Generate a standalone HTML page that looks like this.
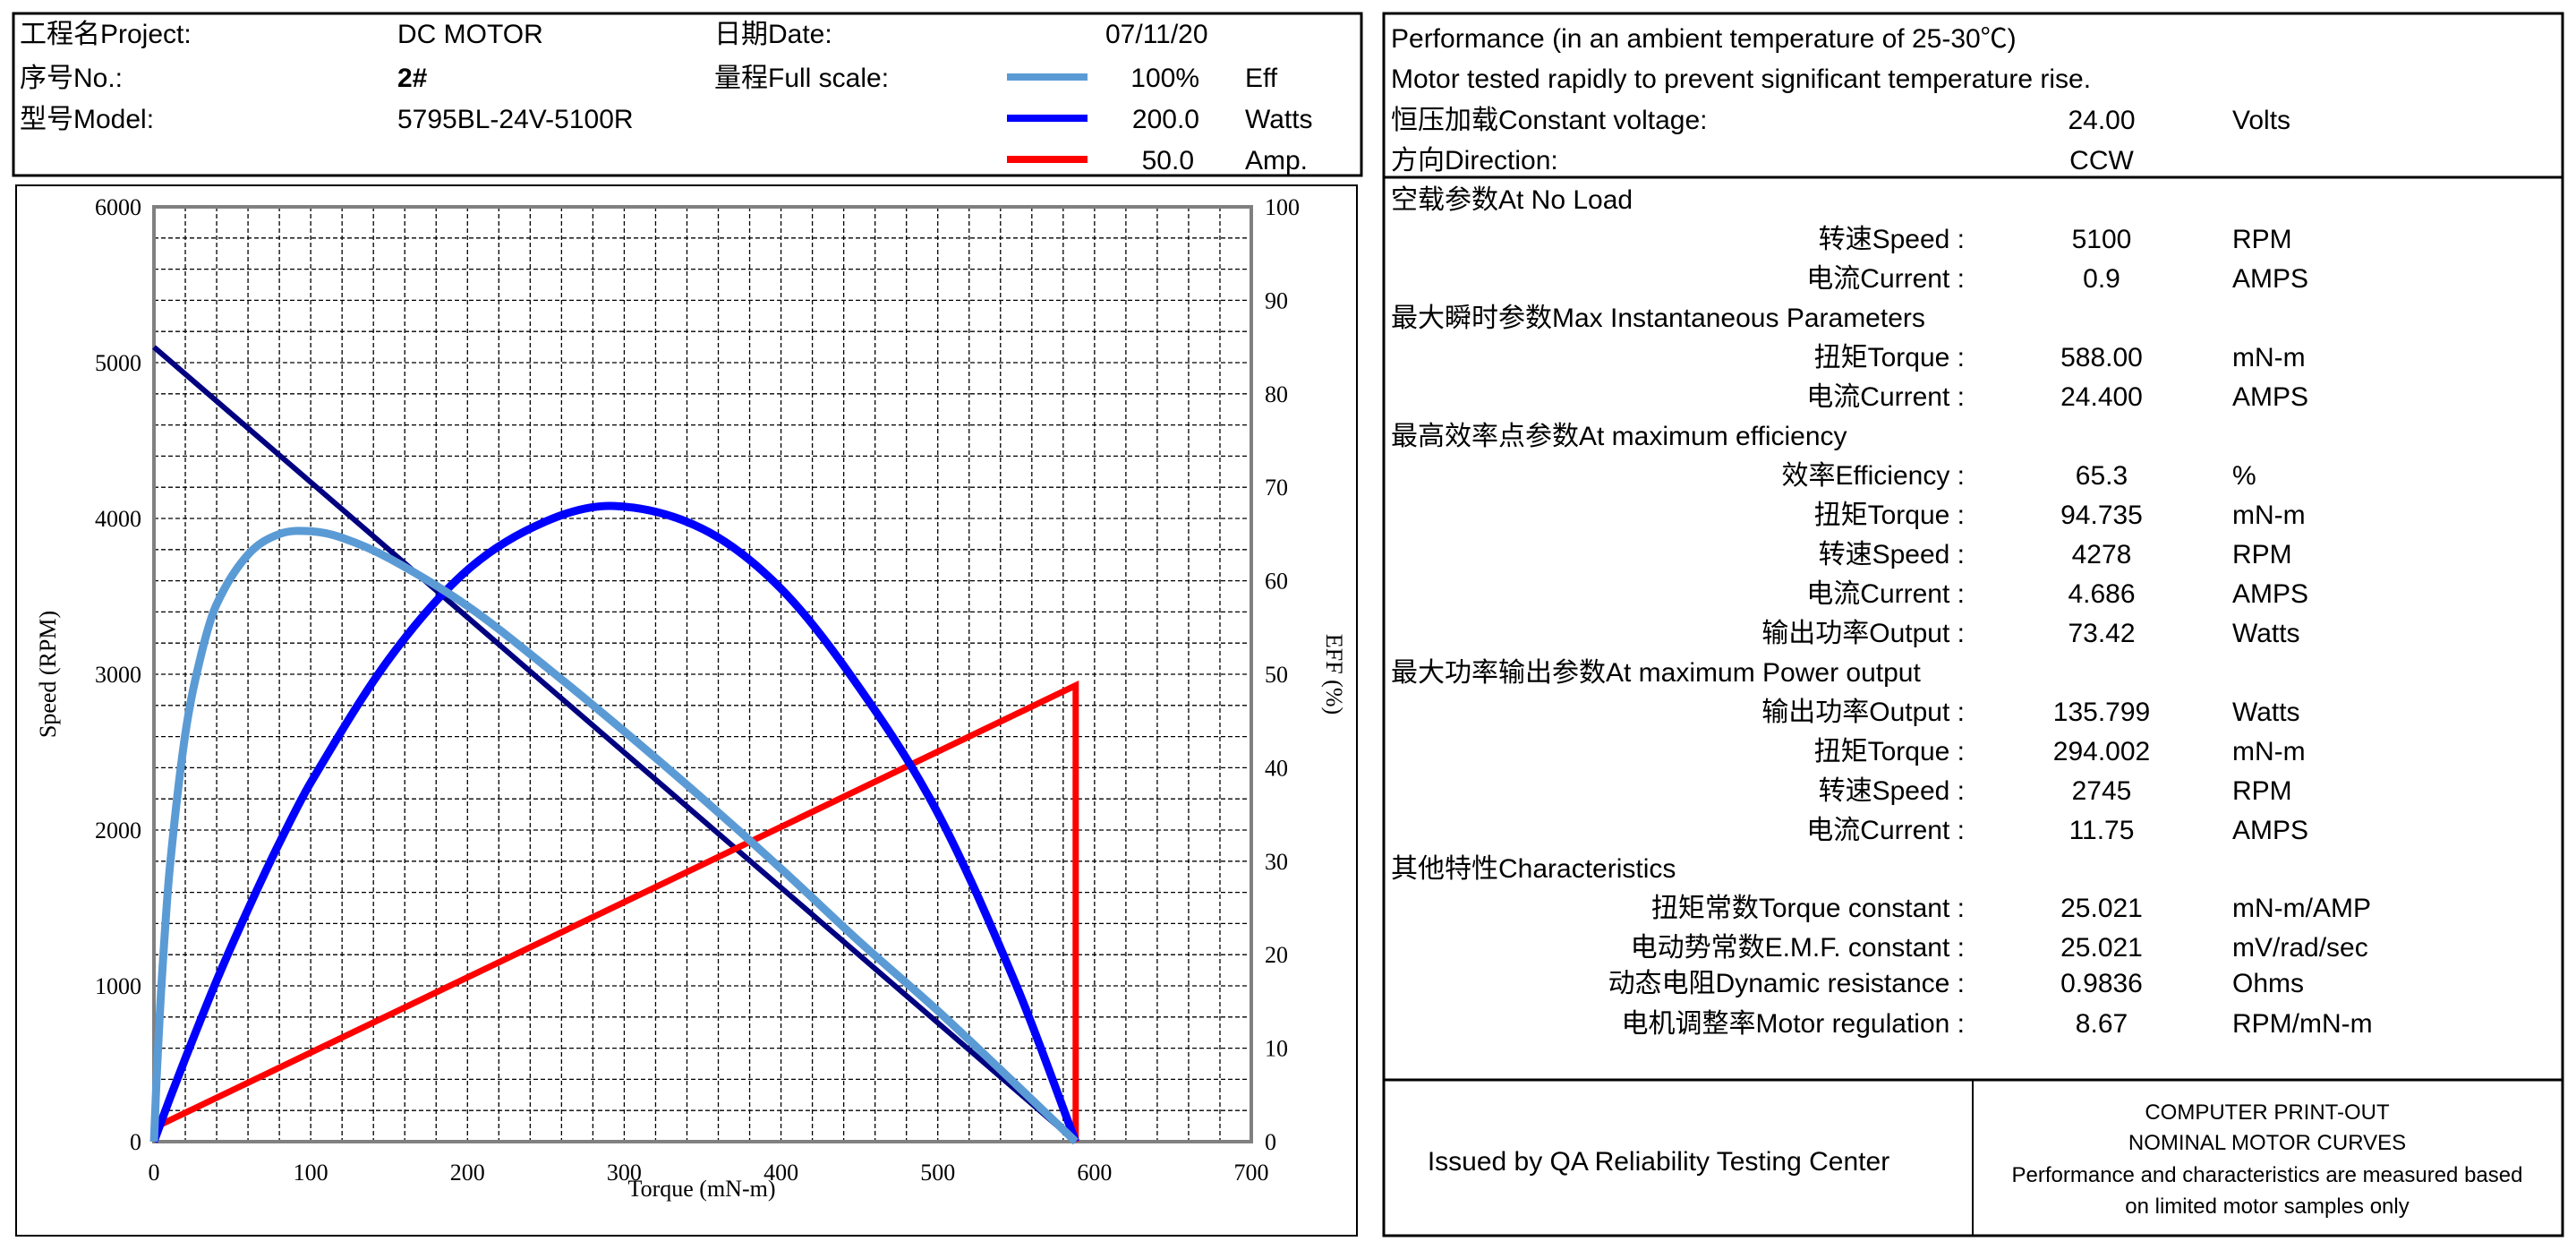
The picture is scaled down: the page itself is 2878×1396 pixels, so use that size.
<!DOCTYPE html>
<html><head><meta charset="utf-8"><style>
html,body{margin:0;padding:0;background:#fff;}
svg{display:block;}
.t{font-family:"Liberation Sans","Noto Sans CJK SC",sans-serif;font-size:30px;fill:#000;}
.s{font-family:"Liberation Serif",serif;font-size:26px;fill:#000;}
</style></head><body>
<svg id="root" width="2878" height="1396" viewBox="0 0 2878 1396" xmlns="http://www.w3.org/2000/svg">
<g>
<rect x="15" y="15" width="1506" height="181" fill="none" stroke="#000" stroke-width="3"/>
<text class="t" x="22" y="48">工程名Project:</text>
<text class="t" x="444" y="48">DC MOTOR</text>
<text class="t" x="798" y="48">日期Date:</text>
<text class="t" x="1235" y="48">07/11/20</text>
<text class="t" x="22" y="97">序号No.:</text>
<text class="t" x="444" y="97" font-weight="bold">2#</text>
<text class="t" x="798" y="97">量程Full scale:</text>
<text class="t" x="22" y="143">型号Model:</text>
<text class="t" x="444" y="143">5795BL-24V-5100R</text>
<rect x="1125" y="82" width="90" height="8" fill="#5B9BD5"/>
<text class="t" x="1340" y="97" text-anchor="end">100%</text>
<text class="t" x="1391" y="97">Eff</text>
<rect x="1125" y="128" width="90" height="8" fill="#0000FF"/>
<text class="t" x="1340" y="143" text-anchor="end">200.0</text>
<text class="t" x="1391" y="143">Watts</text>
<rect x="1125" y="174" width="90" height="8" fill="#FF0000"/>
<text class="t" x="1334" y="189" text-anchor="end">50.0</text>
<text class="t" x="1391" y="189">Amp.</text>
</g>
<rect x="18" y="207" width="1498" height="1173" fill="none" stroke="#000" stroke-width="2"/>
<g id="chart"></g>
<g>
<rect x="1546" y="15" width="1317" height="1365" fill="none" stroke="#000" stroke-width="3"/>
<line x1="1546" y1="198" x2="2863" y2="198" stroke="#000" stroke-width="3"/>
<line x1="1546" y1="1206" x2="2863" y2="1206" stroke="#000" stroke-width="3"/>
<line x1="2204" y1="1206" x2="2204" y2="1380" stroke="#000" stroke-width="2"/>
<g id="perf"></g>
<text class="t" x="1853" y="1307" text-anchor="middle" font-size="31">Issued by QA Reliability Testing Center</text>
<g font-size="24" text-anchor="middle">
<text class="t" x="2533" y="1250" style="font-size:24px">COMPUTER PRINT-OUT</text>
<text class="t" x="2533" y="1284" style="font-size:24px">NOMINAL MOTOR CURVES</text>
<text class="t" x="2533" y="1320" style="font-size:24px">Performance and characteristics are measured based</text>
<text class="t" x="2533" y="1355" style="font-size:24px">on limited motor samples only</text>
</g>
</g>
</svg>
<script>
// ---- chart data ----
const speedTorque = [0, 588];
const speedRpm = [5100, 0];
const effTorque = [0, 1, 2, 5, 10, 20, 30, 40, 60, 80, 100, 120, 150, 200, 250, 300, 350, 400, 450, 500, 550, 588];
const effPct = [0, 4.1, 7.9, 17.4, 29.1, 43.6, 52, 57.5, 62.8, 65.0, 65.3, 64.6, 62.4, 57.3, 50.8, 43.9, 36.7, 29.2, 21.4, 14.0, 6.1, 0];
const powerTorque = [0, 5, 10, 20, 40, 60, 80, 100, 150, 200, 250, 294, 350, 400, 450, 500, 550, 588];
const powerWatts = [0, 4.6, 9.1, 17.8, 34.5, 49.7, 63.9, 76.8, 103.3, 122.3, 132.7, 136.0, 131.1, 118.3, 97.1, 70.3, 33.5, 0];
const currentTorque = [0, 4, 588, 588];
const currentAmps = [0, 0.9, 24.4, 0];
const xTicks = [0, 100, 200, 300, 400, 500, 600, 700];
const yTicks = [0, 1000, 2000, 3000, 4000, 5000, 6000];
const y2Ticks = [0, 10, 20, 30, 40, 50, 60, 70, 80, 90, 100];
const NS = 'http://www.w3.org/2000/svg';
const L = 172, R = 1398, T = 231, B = 1275;
const xs = v => L + v / 700 * (R - L);
const ys = v => B - v / 6000 * (B - T);
const ysPct = v => B - v / 100 * (B - T);
const g = document.getElementById('chart');
function mk(tag, attrs, parent) {
  const e = document.createElementNS(NS, tag);
  for (const k in attrs) e.setAttribute(k, attrs[k]);
  (parent || g).appendChild(e);
  return e;
}
for (let v = 20; v < 700; v += 20) {
  const ln = mk('line', {x1: xs(v), x2: xs(v), y1: T, y2: B, stroke: '#000', 'stroke-width': 1.3, 'stroke-dasharray': '5,3'});
  
  
}
for (let v = 200; v < 6000; v += 200) {
  const ln = mk('line', {x1: L, x2: R, y1: ys(v), y2: ys(v), stroke: '#000', 'stroke-width': 1.3, 'stroke-dasharray': '5,3'});
  
  
}
const frame = mk('rect', {x: L, y: T, width: R - L, height: B - T, fill: 'none', stroke: '#808080', 'stroke-width': 4});


xTicks.forEach(v => {
  const t = mk('text', {x: xs(v), y: 1318, 'text-anchor': 'middle', class: 's'});
  t.textContent = v;
  
  
});
yTicks.forEach(v => {
  const t = mk('text', {x: 158, y: ys(v) + 9, 'text-anchor': 'end', class: 's'});
  t.textContent = v;
  
  
});
y2Ticks.forEach(v => {
  const t = mk('text', {x: 1413, y: ysPct(v) + 9, class: 's'});
  t.textContent = v;
  
  
});
const xt = mk('text', {x: 784, y: 1336, 'text-anchor': 'middle', class: 's'});
xt.textContent = 'Torque (mN-m)';


const yt = mk('text', {x: 0, y: 0, 'text-anchor': 'middle', class: 's', transform: 'translate(62,753) rotate(-90)'});
yt.textContent = 'Speed (RPM)';


const y2t = mk('text', {x: 0, y: 0, 'text-anchor': 'middle', class: 's', transform: 'translate(1482,753) rotate(90)'});
y2t.textContent = 'EFF (%)';


function series(xsArr, ysArr, yfn) {
  return xsArr.map((x, i) => (i ? 'L' : 'M') + xs(x).toFixed(1) + ',' + yfn(ysArr[i]).toFixed(1)).join(' ');
}
// cubic Hermite with central-difference tangents
function smooth(xsArr, ysArr, yfn) {
  const X = xsArr.map(xs), Y = ysArr.map(yfn), n = X.length;
  const m = [];
  for (let i = 0; i < n; i++) {
    const a = Math.max(0, i - 1), b = Math.min(n - 1, i + 1);
    m[i] = (Y[b] - Y[a]) / (X[b] - X[a]);
  }
  let p = 'M' + X[0].toFixed(1) + ',' + Y[0].toFixed(1);
  for (let i = 0; i < n - 1; i++) {
    const h = (X[i + 1] - X[i]) / 3;
    p += ' C' + (X[i] + h).toFixed(1) + ',' + (Y[i] + m[i] * h).toFixed(1) + ' ' + (X[i + 1] - h).toFixed(1) + ',' + (Y[i + 1] - m[i + 1] * h).toFixed(1) + ' ' + X[i + 1].toFixed(1) + ',' + Y[i + 1].toFixed(1);
  }
  return p;
}
const pSpd = mk('path', {d: series(speedTorque, speedRpm, ys), fill: 'none', stroke: '#000080', 'stroke-width': 6});


const pCur = mk('path', {d: series(currentTorque, currentAmps, v => ysPct(v * 2)), fill: 'none', stroke: '#FF0000', 'stroke-width': 7});


const pPow = mk('path', {d: smooth(powerTorque, powerWatts, v => ysPct(v / 2)), fill: 'none', stroke: '#0000FF', 'stroke-width': 9, 'stroke-linejoin': 'round'});


const pEff = mk('path', {d: smooth(effTorque, effPct, ysPct), fill: 'none', stroke: '#5B9BD5', 'stroke-width': 9, 'stroke-linejoin': 'round'});



// ---- performance panel ----
const perf = document.getElementById('perf');
const heads = [
  ['Performance (in an ambient temperature of 25-30℃)', 42],
  ['Motor tested rapidly to prevent significant temperature rise.', 87],
  ['恒压加载Constant voltage:', 133],
  ['方向Direction:', 178],
  ['空载参数At No Load', 222],
  ['最大瞬时参数Max Instantaneous Parameters', 354],
  ['最高效率点参数At maximum efficiency', 486],
  ['最大功率输出参数At maximum Power output', 750],
  ['其他特性Characteristics', 969]
];
heads.forEach(h => {
  const t = mk('text', {x: 1554, y: h[1] + 11, class: 't'}, perf);
  t.textContent = h[0];
  
  
});
const rows = [
  ['', '24.00', 'Volts', 133], ['', 'CCW', '', 178],
  ['转速Speed    :', '5100', 'RPM', 266], ['电流Current  :', '0.9', 'AMPS', 310],
  ['扭矩Torque   :', '588.00', 'mN-m', 398], ['电流Current  :', '24.400', 'AMPS', 442],
  ['效率Efficiency :', '65.3', '%', 530], ['扭矩Torque :', '94.735', 'mN-m', 574],
  ['转速Speed :', '4278', 'RPM', 618], ['电流Current :', '4.686', 'AMPS', 662],
  ['输出功率Output :', '73.42', 'Watts', 706],
  ['输出功率Output :', '135.799', 'Watts', 794], ['扭矩Torque :', '294.002', 'mN-m', 838],
  ['转速Speed :', '2745', 'RPM', 882], ['电流Current :', '11.75', 'AMPS', 926],
  ['扭矩常数Torque constant :', '25.021', 'mN-m/AMP', 1013], ['电动势常数E.M.F. constant :', '25.021', 'mV/rad/sec', 1057],
  ['动态电阻Dynamic resistance :', '0.9836', 'Ohms', 1097], ['电机调整率Motor regulation :', '8.67', 'RPM/mN-m', 1142]
];
rows.forEach(r => {
  const y = r[3] + 11;
  if (r[0]) {
    const a = mk('text', {x: 2195, y: y, 'text-anchor': 'end', class: 't', 'xml:space': 'preserve'}, perf);
    a.textContent = r[0];
    
    
  }
  const b = mk('text', {x: 2348, y: y, 'text-anchor': 'middle', class: 't'}, perf);
  b.textContent = r[1];
  
  
  if (r[2]) {
    const c = mk('text', {x: 2494, y: y, class: 't'}, perf);
    c.textContent = r[2];
    
    
  }
});
</script>
</body></html>
